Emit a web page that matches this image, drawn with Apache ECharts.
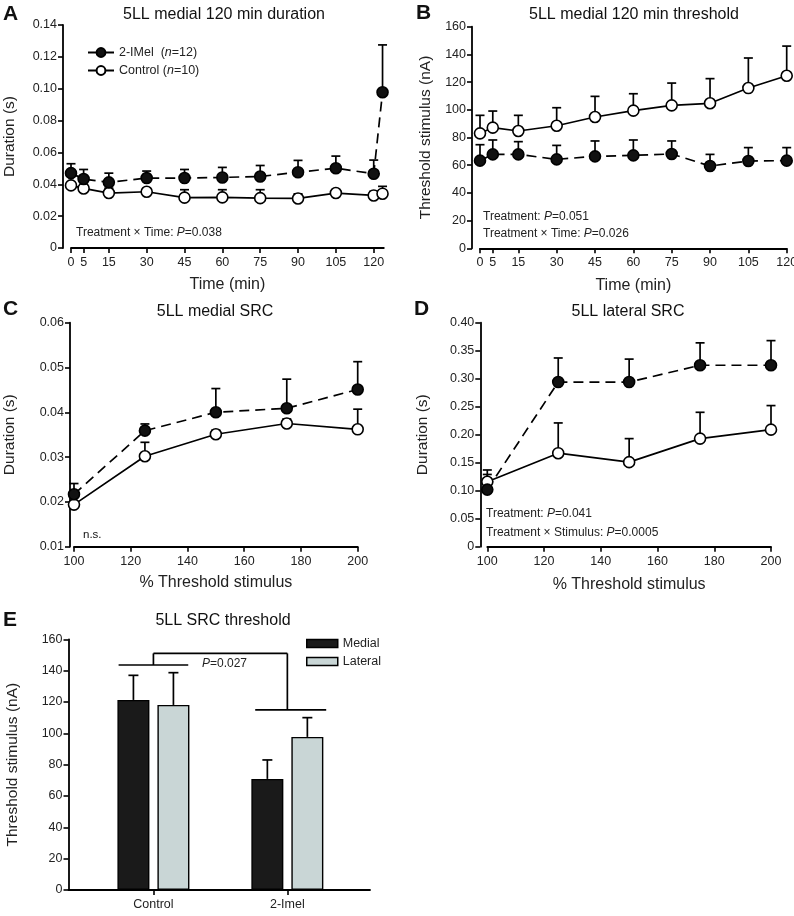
<!DOCTYPE html>
<html>
<head>
<meta charset="utf-8">
<script src="https://cdn.jsdelivr.net/npm/echarts@6/dist/echarts.min.js"></script>
<style>
  html, body { margin: 0; padding: 0; background: #fff; }
  #chart { width: 794px; height: 916px; }
</style>
</head>
<body>
<div id="chart"></div>
<script>
// ---- data ----
var nImel = 12;
var nCtrl = 10;

// A: 5LL medial 120 min duration (s)
var timeTicks = [0, 5, 15, 30, 45, 60, 75, 90, 105, 120];
var timeA = [0, 5, 15, 30, 45, 60, 75, 90, 105, 120, 123.5];
var imelA = [0.047, 0.0433, 0.0412, 0.0439, 0.0439, 0.0443, 0.0449, 0.0476, 0.0501, 0.0466, 0.0978];
var imelATop = [0.0529, 0.0493, 0.047, 0.0483, 0.0493, 0.0506, 0.0518, 0.055, 0.0577, 0.0552, 0.1275];
var ctrlA = [0.0393, 0.0374, 0.0345, 0.0353, 0.0316, 0.0318, 0.0313, 0.0311, 0.0345, 0.033, 0.0341];
var ctrlATop = [0.041, 0.0395, 0.0376, 0.037, 0.0366, 0.0366, 0.0366, 0.034, 0.036, 0.0355, 0.0387];

// B: 5LL medial 120 min threshold (nA)
var timeB = [0, 5, 15, 30, 45, 60, 75, 90, 105, 120];
var ctrlB = [83.0, 87.1, 84.7, 88.5, 94.8, 99.4, 103.2, 104.7, 115.7, 124.6];
var ctrlBTop = [96, 99.1, 96, 101.5, 109.7, 111.6, 119.3, 122.5, 137.4, 146];
var imelB = [63.3, 67.8, 67.8, 64.2, 66.4, 67.1, 68.1, 59.4, 63.0, 63.3];
var imelBTop = [74.8, 78.2, 77, 74.3, 77.5, 78.2, 77.5, 67.8, 72.7, 72.7];

// C / D: SRC duration vs % threshold stimulus
var stim = [100, 125, 150, 175, 200];
var imelC = [0.0217, 0.0359, 0.04, 0.0409, 0.0451];
var imelCTop = [0.0241, 0.0374, 0.0453, 0.0474, 0.0513];
var ctrlC = [0.0194, 0.0302, 0.0351, 0.0375, 0.0362];
var ctrlCTop = [0.0194, 0.0333, 0.036, 0.0385, 0.0407];
var imelD = [0.102, 0.294, 0.294, 0.324, 0.324];
var imelDTop = [0.137, 0.337, 0.335, 0.364, 0.368];
var ctrlD = [0.116, 0.167, 0.151, 0.193, 0.209];
var ctrlDTop = [0.129, 0.221, 0.193, 0.240, 0.252];

// E: SRC threshold bars
var groups = ['Control', '2-Imel'];
var medialE = [121.3, 70.9];
var medialETop = [137, 83];
var lateralE = [118.1, 97.7];
var lateralETop = [138.7, 110];
// bracket: [x1, y1, x2, y2] in data units
var bracketE = [
  [0.74, 143.6, 1.26, 143.6],
  [1, 143.6, 1, 151],
  [1, 151, 2, 151],
  [2, 151, 2, 114.9],
  [1.76, 114.9, 2.29, 114.9]
];

// ---- helpers ----
var FONT = 'Liberation Sans, Arial, Helvetica, sans-serif';
var BLACK = '#000';

function pairs(xs, ys) {
  return xs.map(function (x, i) { return [x, ys[i]]; });
}
function triples(xs, ys, tops) {
  return xs.map(function (x, i) { return [x, ys[i], tops[i]]; });
}

// 误差线（只画上方）
function errRender(offsetPx, cap) {
  return function (params, api) {
    var base = api.coord([api.value(0), api.value(1)]);
    var top = api.coord([api.value(0), api.value(2)]);
    var x = base[0] + offsetPx;
    var st = { stroke: BLACK, lineWidth: 1.7 };
    return {
      type: 'group',
      children: [
        { type: 'line', shape: { x1: x, y1: base[1], x2: x, y2: top[1] }, style: st },
        { type: 'line', shape: { x1: x - cap, y1: top[1], x2: x + cap, y2: top[1] }, style: st }
      ]
    };
  };
}

function errSeries(idx, data, offsetPx, cap) {
  return {
    type: 'custom', xAxisIndex: idx, yAxisIndex: idx, z: 2,
    renderItem: errRender(offsetPx || 0, cap || 4.5),
    encode: { x: 0, y: [1, 2] },
    data: data, clip: false, silent: true
  };
}

function lineSeries(name, idx, data, filled) {
  return {
    name: name, type: 'line', xAxisIndex: idx, yAxisIndex: idx, data: data, z: 3,
    symbol: 'circle', symbolSize: 11, showSymbol: true, clip: false,
    lineStyle: { color: BLACK, width: 1.7, type: filled ? [10, 6] : 'solid' },
    itemStyle: { color: filled ? '#111' : '#fff', borderColor: BLACK, borderWidth: 1.6 },
    emphasis: { disabled: true }, silent: true
  };
}

function xAxisCfg(idx, min, max, ticks, name, nameGap, fmt) {
  return {
    gridIndex: idx, type: 'value', min: min, max: max,
    axisLine: { show: true, onZero: false, lineStyle: { color: BLACK, width: 1.8 } },
    axisTick: { show: true, length: 5, customValues: ticks, lineStyle: { color: BLACK, width: 1.6 } },
    axisLabel: { customValues: ticks, color: '#222', fontSize: 12.5, margin: 8, formatter: fmt },
    splitLine: { show: false },
    name: name, nameLocation: 'middle', nameGap: nameGap,
    nameTextStyle: { fontSize: 16, color: '#222' }
  };
}

function yAxisCfg(idx, min, max, interval, offset, name, nameGap, fmt) {
  return {
    gridIndex: idx, type: 'value', min: min, max: max, interval: interval, offset: offset,
    axisLine: { show: true, onZero: false, lineStyle: { color: BLACK, width: 1.8 } },
    axisTick: { show: true, length: 5, lineStyle: { color: BLACK, width: 1.6 } },
    axisLabel: { color: '#222', fontSize: 12.5, margin: 6, formatter: fmt },
    splitLine: { show: false },
    name: name, nameLocation: 'middle', nameGap: nameGap,
    nameTextStyle: { fontSize: 15.5, color: '#222' }
  };
}

function fmt2(v) { return v === 0 ? '0' : v.toFixed(2); }
function fmt0(v) { return String(v); }

function label(x, y, text, size, bold, align) {
  return {
    type: 'text', x: x, y: y, silent: true,
    style: {
      text: text, fill: '#111', textAlign: align || 'left', textVerticalAlign: 'middle',
      font: (bold ? 'bold ' : '') + size + 'px ' + FONT
    }
  };
}

function pLabel(x, y, before, after) {
  return {
    type: 'text', x: x, y: y, silent: true,
    style: {
      text: '{n|' + before + '}{i|P}{n|' + after + '}',
      textVerticalAlign: 'middle',
      rich: {
        n: { fontSize: 12, fontFamily: FONT, fill: '#222' },
        i: { fontSize: 12, fontFamily: FONT, fontStyle: 'italic', fill: '#222' }
      }
    }
  };
}

// ---- option ----
var option = {
  animation: false,
  backgroundColor: '#fff',
  textStyle: { fontFamily: FONT },
  grid: [
    { left: 71, top: 25, width: 312.8, height: 223, outerBoundsMode: 'none' },
    { left: 480, top: 26.7, width: 306.7, height: 221.6, outerBoundsMode: 'none' },
    { left: 74, top: 322.7, width: 283.7, height: 224, outerBoundsMode: 'none' },
    { left: 487.3, top: 322.7, width: 283.7, height: 224, outerBoundsMode: 'none' },
    { left: 68.5, top: 639.3, width: 301.5, height: 250.7, outerBoundsMode: 'none' }
  ],
  xAxis: [
    xAxisCfg(0, 0, 124, timeTicks, 'Time (min)', 29, fmt0),
    xAxisCfg(1, 0, 120, timeTicks, 'Time (min)', 29, fmt0),
    xAxisCfg(2, 100, 200, [100, 120, 140, 160, 180, 200], '% Threshold stimulus', 28, fmt0),
    xAxisCfg(3, 100, 200, [100, 120, 140, 160, 180, 200], '% Threshold stimulus', 30, fmt0),
    xAxisCfg(4, 0.366, 2.617, [1, 2], '', 0, function (v) { return groups[Math.round(v) - 1]; })
  ],
  yAxis: [
    yAxisCfg(0, 0, 0.14, 0.02, 8, 'Duration (s)', 45, fmt2),
    yAxisCfg(1, 0, 160, 20, 8, 'Threshold stimulus (nA)', 38, fmt0),
    yAxisCfg(2, 0.01, 0.06, 0.01, 4, 'Duration (s)', 52, fmt2),
    yAxisCfg(3, 0, 0.4, 0.05, 7, 'Duration (s)', 50, fmt2),
    yAxisCfg(4, 0, 160, 20, 0, 'Threshold stimulus (nA)', 48, fmt0)
  ],
  legend: [
    {
      left: 82, top: 41, orient: 'vertical', itemWidth: 26, itemHeight: 11, itemGap: 5,
      data: ['2-IMel', 'Control'], selectedMode: false,
      lineStyle: { type: 'solid' },
      formatter: function (n) {
        return n === '2-IMel' ? '2-IMel  ({i|n}=' + nImel + ')' : 'Control ({i|n}=' + nCtrl + ')';
      },
      textStyle: {
        fontSize: 12.5, color: '#222',
        rich: { i: { fontStyle: 'italic', fontSize: 12.5, color: '#222' } }
      }
    },
    {
      left: 301, top: 632, orient: 'vertical', itemWidth: 31, itemHeight: 8, itemGap: 5,
      data: ['Medial', 'Lateral'], selectedMode: false, icon: 'rect',
      itemStyle: { borderColor: BLACK, borderWidth: 1.5 },
      textStyle: { fontSize: 12.5, color: '#222' }
    }
  ],
  graphic: [
    label(3, 14, 'A', 21, true),
    label(416, 13, 'B', 21, true),
    label(3, 309, 'C', 21, true),
    label(414, 309, 'D', 21, true),
    label(3, 620, 'E', 21, true),
    label(224, 15, '5LL medial 120 min duration', 16, false, 'center'),
    label(634, 15, '5LL medial 120 min threshold', 16, false, 'center'),
    label(215, 312, '5LL medial SRC', 16, false, 'center'),
    label(628, 312, '5LL lateral SRC', 16, false, 'center'),
    label(223, 621, '5LL SRC threshold', 16, false, 'center'),
    pLabel(76, 233, 'Treatment \u00d7 Time: ', '=0.038'),
    pLabel(483, 217, 'Treatment: ', '=0.051'),
    pLabel(483, 234, 'Treatment \u00d7 Time: ', '=0.026'),
    label(83, 535, 'n.s.', 11.5, false),
    pLabel(486, 514, 'Treatment: ', '=0.041'),
    pLabel(486, 533, 'Treatment \u00d7 Stimulus: ', '=0.0005'),
    pLabel(202, 664, '', '=0.027')
  ],
  series: [
    // A
    errSeries(0, triples(timeA, imelA, imelATop)),
    errSeries(0, triples(timeA, ctrlA, ctrlATop)),
    lineSeries('Control', 0, pairs(timeA, ctrlA), false),
    lineSeries('2-IMel', 0, pairs(timeA, imelA), true),
    // B
    errSeries(1, triples(timeB, ctrlB, ctrlBTop)),
    errSeries(1, triples(timeB, imelB, imelBTop)),
    lineSeries('Control B', 1, pairs(timeB, ctrlB), false),
    lineSeries('2-IMel B', 1, pairs(timeB, imelB), true),
    // C
    errSeries(2, triples(stim, imelC, imelCTop)),
    errSeries(2, triples(stim, ctrlC, ctrlCTop)),
    lineSeries('Control C', 2, pairs(stim, ctrlC), false),
    lineSeries('2-IMel C', 2, pairs(stim, imelC), true),
    // D
    errSeries(3, triples(stim, imelD, imelDTop)),
    errSeries(3, triples(stim, ctrlD, ctrlDTop)),
    lineSeries('Control D', 3, pairs(stim, ctrlD), false),
    lineSeries('2-IMel D', 3, pairs(stim, imelD), true),
    // E
    {
      name: 'Medial', type: 'bar', xAxisIndex: 4, yAxisIndex: 4,
      data: pairs([1, 2], medialE), barWidth: 32, barGap: '25%', z: 2, silent: true,
      itemStyle: { color: '#1a1a1a', borderColor: BLACK, borderWidth: 1.4 }
    },
    {
      name: 'Lateral', type: 'bar', xAxisIndex: 4, yAxisIndex: 4,
      data: pairs([1, 2], lateralE), barWidth: 32, barGap: '25%', z: 2, silent: true,
      itemStyle: { color: '#c9d6d6', borderColor: BLACK, borderWidth: 1.4 }
    },
    errSeries(4, triples([1, 2], medialE, medialETop), -20, 5),
    errSeries(4, triples([1, 2], lateralE, lateralETop), 20, 5),
    {
      type: 'custom', xAxisIndex: 4, yAxisIndex: 4, silent: true, clip: false,
      data: bracketE,
      encode: { x: [0, 2], y: [1, 3] },
      renderItem: function (params, api) {
        var p1 = api.coord([api.value(0), api.value(1)]);
        var p2 = api.coord([api.value(2), api.value(3)]);
        return {
          type: 'line',
          shape: { x1: p1[0], y1: p1[1], x2: p2[0], y2: p2[1] },
          style: { stroke: BLACK, lineWidth: 1.7 }
        };
      }
    }
  ]
};

var chart = echarts.init(document.getElementById('chart'), null, { renderer: 'canvas' });
chart.setOption(option);
</script>
</body>
</html>
